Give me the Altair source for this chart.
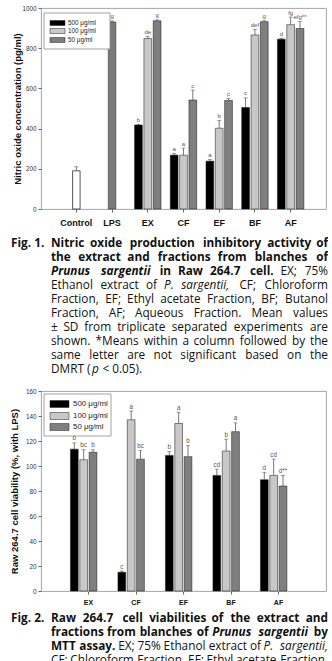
import altair as alt
import pandas as pd

# ------------------------------------------------------------------ data
conc_labels = ["500 μg/ml", "100 μg/ml", "50 μg/ml"]
conc_colors = ["#000000", "#c8c8c8", "#7f7f7f"]

# Fig. 1  nitric oxide (pg/ml)
cats1 = ["Control", "LPS", "EX", "CF", "EF", "BF", "AF"]
single_cats = ["Control", "LPS"]
single_vals = [190, 930]
single_err = [20, 6]
single_letters = ["", "g"]

frac = ["EX", "CF", "EF", "BF", "AF"]
no_500 = [418, 268, 238, 505, 845]
no_100 = [848, 268, 402, 866, 917]
no_50 = [936, 542, 540, 932, 898]
no_err_500 = [4, 8, 8, 48, 5]
no_err_100 = [10, 35, 38, 28, 38]
no_err_50 = [5, 50, 10, 5, 34]
no_let_500 = ["b", "a", "a", "c", "d"]
no_let_100 = ["de", "a", "b", "def", "fg"]
no_let_50 = ["g", "c", "c", "g", "efg**"]

# Fig. 2  cell viability (%)
via_500 = [113.5, 15, 108.5, 92.5, 89]
via_100 = [105, 137, 134, 112, 92.5]
via_50 = [111, 105.5, 107.5, 127.5, 84]
via_err_500 = [5, 1, 3, 5, 6]
via_err_100 = [8, 7, 9, 9.5, 13]
via_err_50 = [2, 7, 9, 7, 8.5]
via_let_500 = ["b", "c", "b", "cd", "d"]
via_let_100 = ["bc", "a", "a", "b", "cd"]
via_let_50 = ["b", "bc", "b", "a", "d**"]

no_ticks = [0, 200, 400, 600, 800, 1000]
via_ticks = [0, 20, 40, 60, 80, 100, 120, 140, 160]


def long_df(cats, vals, errs, lets):
    rows = []
    for ci, c in enumerate(conc_labels):
        for i, cat in enumerate(cats):
            rows.append({"cat": cat, "conc": c, "value": vals[ci][i],
                         "err": errs[ci][i], "letter": lets[ci][i]})
    return pd.DataFrame(rows)


df1 = long_df(frac, [no_500, no_100, no_50], [no_err_500, no_err_100, no_err_50],
              [no_let_500, no_let_100, no_let_50])
df1s = pd.DataFrame({"cat": single_cats, "value": single_vals, "err": single_err,
                     "letter": single_letters})
df2 = long_df(frac, [via_500, via_100, via_50], [via_err_500, via_err_100, via_err_50],
              [via_let_500, via_let_100, via_let_50])

# ------------------------------------------------------------------ captions
CAPF = "Open Sans"
CAP_FS = 11.8
CW = {
    " ": .26, "a": .556, "b": .613, "c": .479, "d": .613, "e": .561, "f": .336, "g": .546,
    "h": .614, "i": .252, "j": .252, "k": .522, "l": .252, "m": .93, "n": .614, "o": .602,
    "p": .613, "q": .613, "r": .408, "s": .479, "t": .352, "u": .614, "v": .501, "w": .774,
    "x": .514, "y": .501, "z": .469,
    "A": .633, "B": .647, "C": .631, "D": .729, "E": .556, "F": .516, "G": .728, "H": .738,
    "I": .279, "J": .268, "K": .613, "L": .519, "M": .902, "N": .754, "O": .779, "P": .602,
    "Q": .779, "R": .618, "S": .549, "T": .553, "U": .729, "V": .582, "W": .899, "X": .577,
    "Y": .556, "Z": .572,
    ".": .268, ",": .258, ";": .268, ":": .268, "(": .296, ")": .296, "*": .551, "%": .823,
    "±": .572, "<": .572, "/": .367, "-": .32,
}


def tw(s, st):
    f = 1.07 if "b" in st else 1.0
    return sum(CW.get(ch, 0.572) for ch in s) * CAP_FS * f * 1.02


def place_line(words, y, x0=50, x1=327, justify=True, gaps=None):
    ws = [tw(t, s) for t, s in words]
    out = []
    if justify and len(words) > 1:
        gap = (x1 - x0 - sum(ws)) / (len(words) - 1)
    x = x0
    for i, ((t, s), w) in enumerate(zip(words, ws)):
        if justify and len(words) > 1 and i == len(words) - 1:
            out.append(dict(t=t, s=s, x=x1, y=y, a="right"))
        else:
            out.append(dict(t=t, s=s, x=x, y=y, a="left"))
        g = gap if justify and len(words) > 1 else (gaps[i] if gaps and i < len(gaps) else tw(" ", s))
        x += w + g
    return out


def words(text, st):
    return [(w, st) for w in text.split()]


cap1_lines = [
    words("Nitric oxide production inhibitory activity of", "b"),
    words("the extract and fractions from blanches of", "b"),
    words("Prunus sargentii", "bi") + words("in Raw 264.7 cell.", "b") + words("EX; 75%", "n"),
    words("Ethanol extract of", "n") + words("P. sargentii,", "i") + words("CF; Chloroform", "n"),
    words("Fraction, EF; Ethyl acetate Fraction, BF; Butanol", "n"),
    words("Fraction, AF; Aqueous Fraction. Mean values", "n"),
    words("± SD from triplicate separated experiments are", "n"),
    words("shown. *Means within a column followed by the", "n"),
    words("same letter are not significant based on the", "n"),
]
cap2_lines = [
    words("Raw 264.7 cell viabilities of the extract and", "b"),
    words("fractions from blanches of", "b") + words("Prunus sargentii", "bi") + words("by", "b"),
    words("MTT assay.", "b") + words("EX; 75% Ethanol extract of", "n") + words("P. sargentii,", "i"),
    words("CF; Chloroform Fraction, EF; Ethyl acetate Fraction,", "n"),
]

# ------------------------------------------------------------------ layout (page pixels)
PX0 = 40            # plot left edge
W = 285
H1 = 201            # fig 1 plot 7 .. 208
H2 = 200            # fig 2 plot 388 .. 588
C1_TOP = 226.5      # caption 1 block starts (below fig 1 axis labels)
C1_H = 158.3
C2_TOP = 602.5
C2_H = 64
LEAD = 14

cap1_rows = place_line([("Fig. 1.", "b")], 241, x0=10, justify=False)
for i, ln in enumerate(cap1_lines):
    cap1_rows += place_line(ln, 241 + LEAD * i)
cap1_rows += place_line([("DMRT (", "n"), ("p", "i"), ("< 0.05).", "n")], 241 + LEAD * 9,
                        justify=False, gaps=[0.5, tw(" ", "n")])

cap2_rows = place_line([("Fig. 2.", "b")], 614, x0=10, justify=False)
for i, ln in enumerate(cap2_lines):
    cap2_rows += place_line(ln, 614 + LEAD * i)


def caption_chart(rows, ox, oy, h):
    df = pd.DataFrame(rows)
    df["x"] = df["x"] - ox
    df["y"] = df["y"] - oy
    layers = []
    for (s, a), sub in df.groupby(["s", "a"]):
        layers.append(
            alt.Chart(sub.reset_index(drop=True)).mark_text(
                font=CAPF, fontSize=CAP_FS,
                fontWeight="bold" if "b" in s else "normal",
                fontStyle="italic" if "i" in s else "normal",
                align=a, baseline="middle", color="#111111", fill="#111111"
            ).encode(
                x=alt.X("x:Q", scale=None, axis=None),
                y=alt.Y("y:Q", scale=None, axis=None),
                text="t:N",
            )
        )
    return alt.layer(*layers).properties(
        width=W, height=h, view=alt.ViewBackground(strokeOpacity=0, fillOpacity=0))


one = pd.DataFrame({"k": [0]})
AF = "Liberation Sans"


def legend_layers(bx0, by0, bx1, by1, sx0, sx1, rows_y, sh, lx, fs):
    layers = [alt.Chart(one).mark_rect(fill="white", stroke="#8a8a8a", strokeWidth=0.8).encode(
        x=alt.value(bx0), x2=alt.value(bx1), y=alt.value(by0), y2=alt.value(by1))]
    for i, (lab, col) in enumerate(zip(conc_labels, conc_colors)):
        layers.append(alt.Chart(one).mark_rect(fill=col, stroke="#222", strokeWidth=0.5).encode(
            x=alt.value(sx0), x2=alt.value(sx1),
            y=alt.value(rows_y[i] - sh / 2), y2=alt.value(rows_y[i] + sh / 2)))
        layers.append(alt.Chart(one).mark_text(text=lab, align="left", baseline="middle",
                                               font=AF, fontSize=fs, color="#222",
                                               fill="#222").encode(
            x=alt.value(lx), y=alt.value(rows_y[i])))
    return layers


def make_panel(df_g, cats, y_dom, y_ticks, y_title, H, band_pi, band_po, off_pi, off_po,
               xlab_fs, xlab_pad, title_x, letter_fs, df_single=None):
    xs = alt.Scale(domain=cats, paddingInner=band_pi, paddingOuter=band_po)
    ys = alt.Scale(domain=y_dom, nice=False, zero=True)
    x_axis = alt.Axis(title=None, labelAngle=0, labelFont=AF, labelFontWeight="bold",
                      labelFontSize=xlab_fs, labelColor="#111", labelPadding=xlab_pad,
                      tickSize=3, tickColor="#666", domain=False)
    y_axis = alt.Axis(values=y_ticks, format="d", title=y_title, titleFont=AF, titleFontSize=9.5,
                      titleFontWeight="bold", titleColor="#111", titleX=title_x, titleY=H / 2,
                      titleAngle=270, titleBaseline="middle", titleAlign="center",
                      labelFont=AF, labelFontSize=6.3, labelColor="#333", labelPadding=2,
                      tickSize=3, tickColor="#666", domain=False, grid=False)
    xo = alt.XOffset("conc:N", sort=conc_labels,
                     scale=alt.Scale(domain=conc_labels, paddingInner=off_pi, paddingOuter=off_po))
    # every layer carries the same axis definition (an axis=None in a layer would drop it)
    X = lambda: alt.X("cat:N", sort=cats, scale=xs, axis=x_axis)
    Y = lambda f: alt.Y(f, scale=ys, axis=y_axis)
    color = alt.Color("conc:N", scale=alt.Scale(domain=conc_labels, range=conc_colors), legend=None)

    layers = []
    g = alt.Chart(df_g).transform_calculate(top="datum.value + datum.err")
    layers.append(g.mark_bar(stroke="#111", strokeWidth=0.5).encode(
        x=X(), xOffset=xo, y=Y("value:Q"), color=color))
    layers.append(g.mark_rule(color="#555", strokeWidth=0.8).encode(
        x=X(), xOffset=xo, y=Y("value:Q"), y2="top:Q"))
    layers.append(g.mark_tick(color="#555", thickness=0.8, size=4).encode(
        x=X(), xOffset=xo, y=Y("top:Q")))
    layers.append(g.mark_text(font=AF, fontSize=letter_fs, color="#555", fill="#555",
                              baseline="bottom", dy=-1.5).encode(
        x=X(), xOffset=xo, y=Y("top:Q"), text="letter:N"))

    if df_single is not None:
        s = alt.Chart(df_single).transform_calculate(top="datum.value + datum.err")
        layers.append(s.transform_filter("datum.cat == 'Control'").mark_bar(
            fill="white", stroke="#111", strokeWidth=0.7, width=7.5).encode(
            x=X(), y=Y("value:Q")))
        layers.append(s.transform_filter("datum.cat == 'LPS'").mark_bar(
            fill="#7a7a7a", stroke="#333", strokeWidth=0.6, width=7.5).encode(
            x=X(), y=Y("value:Q")))
        layers.append(s.mark_rule(color="#555", strokeWidth=0.8).encode(
            x=X(), y=Y("value:Q"), y2="top:Q"))
        layers.append(s.mark_tick(color="#555", thickness=0.8, size=4).encode(
            x=X(), y=Y("top:Q")))
        layers.append(s.mark_text(font=AF, fontSize=letter_fs, color="#555", fill="#555",
                                  baseline="bottom", dy=-1.5).encode(
            x=X(), y=Y("top:Q"), text="letter:N"))
    return layers


layers1 = make_panel(df1, cats1, [0, 1000], no_ticks, "Nitric oxide concentration (pg/ml)", H1,
                     0.26, 0.62, 0.17, 0.0, 9, 6.2, -24, 6, df_single=df1s)
layers1 += legend_layers(3, 5, 69, 41, 9, 24, [15, 23, 32], 5, 27, 6.3)

layers2 = make_panel(df2, frac, [0, 160], via_ticks, "Raw 264.7 cell viability (%, with LPS)", H2,
                     0.24, 0.62, 0.22, 0.04, 7, 4.5, -27, 6.3)
layers2 += legend_layers(3, 3, 70, 45, 9, 28, [13, 25, 36], 7, 32, 7.9)

frame = alt.ViewBackground(stroke="#9a9a9a", strokeWidth=0.9, strokeOpacity=1)
chart1 = alt.layer(*layers1).properties(width=W, height=H1, view=frame)
chart2 = alt.layer(*layers2).properties(width=W, height=H2, view=frame)
cap1 = caption_chart(cap1_rows, PX0, C1_TOP, C1_H)
cap2 = caption_chart(cap2_rows, PX0, C2_TOP, C2_H)

chart = alt.vconcat(chart1, cap1, chart2, cap2, spacing=0).properties(
    padding={"left": 8, "top": 4, "right": 0, "bottom": 0},
    background="white",
)

chart.save("out.html", embed_options={"renderer": "svg", "actions": False})
